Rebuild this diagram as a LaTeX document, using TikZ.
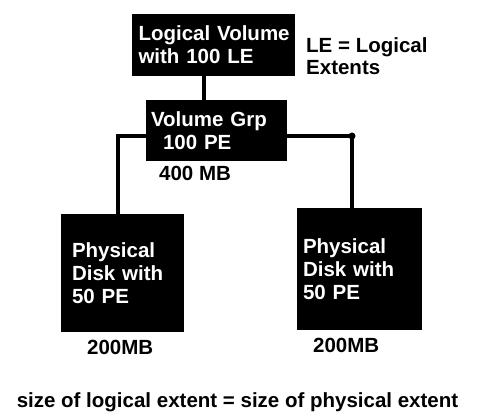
\documentclass[tikz,border=0pt]{standalone}
\usepackage{fontspec}
\setmainfont{Liberation Sans}
\tikzstyle{blk} = [rectangle, fill=black, text=white, align=left, font=\fontsize{20.5}{23}\selectfont\bfseries, inner ysep=0pt]
\tikzstyle{note} = [inner sep=0pt, align=left, font=\fontsize{20.5}{22}\selectfont\bfseries]
\tikzstyle{link} = [line width=4pt]

\begin{document}
\begin{tikzpicture}[x=1pt, y=-1pt, node distance=85.5pt]
\useasboundingbox (0,0) rectangle (480,419);
\node (LV)[blk, minimum width=163pt, minimum height=62pt, text width=154pt, inner xsep=4.5pt] at (213.5,45) {\hspace*{2pt}Logical Volume\\\hspace*{2pt}with 100 LE};
\node (LEnote)[note, anchor=north west] at (306,37) {LE = Logical\\Extents};

\node (VG)[blk, below of=LV, xshift=3pt, minimum width=141pt, minimum height=61pt, text width=131pt, inner xsep=5pt]{Volume Grp\\\hspace*{12pt}100 PE};
\node (VGsize)[note, anchor=base west] at (159,181) {400 MB};
\draw [link]([xshift=-9.5pt]LV.south) -- ([xshift=-12.5pt]VG.north);

\node (PD1)[blk, below of=VG, yshift=-57pt, xshift=-94pt, minimum width=123pt, minimum height=118pt, text width=101pt, inner xsep=11pt]{Physical\\Disk with\\50 PE};
\node (PD2)[blk, right of=PD1, xshift=151.5pt, yshift=4pt, minimum width=125pt, minimum height=122pt, text width=113pt, inner xsep=6pt]{Physical\\Disk with\\50 PE};
\node (PD1size)[note, anchor=base west] at (87,355) {200MB};
\node (PD2size)[note, anchor=base west] at (313,353) {200MB};
\draw [link]([yshift=-5.5pt]VG.west) -| ([xshift=-4.5pt]PD1.north);
\draw [link]([yshift=-5.5pt]VG.east) -| coordinate[pos=0.5](knee) ([xshift=-7.5pt]PD2.north);
\fill (knee) circle (3.5pt);

\node (rule)[note, anchor=base] at (237.5,408) {size of logical extent = size of physical extent};
\end{tikzpicture}
\end{document}
